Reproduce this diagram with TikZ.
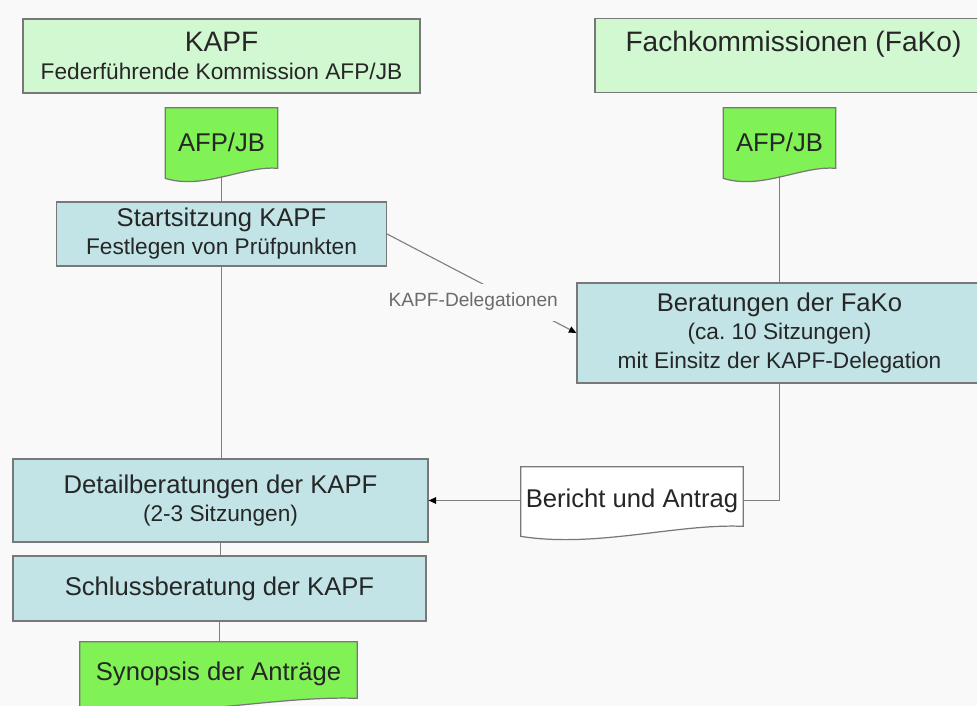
\documentclass[tikz,border=0pt]{standalone}
\usepackage{fontspec}
\setmainfont{Liberation Sans}
\usetikzlibrary{arrows.meta,calc,backgrounds}

\definecolor{bgpage}{RGB}{249,249,249}
\definecolor{hdrgreen}{RGB}{210,248,210}
\definecolor{docgreen}{RGB}{128,242,85}
\definecolor{sessblue}{RGB}{194,228,230}
\definecolor{rimgray}{RGB}{120,120,120}
\definecolor{wiregray}{RGB}{128,128,128}

\newcommand{\bigtxt}{\fontsize{16}{16}\selectfont}
\newcommand{\midtxt}{\fontsize{14.6}{16}\selectfont}
\newcommand{\smalltxt}{\fontsize{12.9}{16}\selectfont}
\newcommand{\lbltxt}{\fontsize{10.9}{13}\selectfont}

\begin{document}
\begin{tikzpicture}[x=0.02cm, y=-0.02cm,
  every node/.style={font=\midtxt, text=black!85},
  hdr/.style={draw=rimgray, fill=hdrgreen, line width=0.7pt, minimum width=7.94cm, minimum height=1.48cm, inner sep=0pt, align=center},
  sess/.style={draw=rimgray, fill=sessblue, line width=0.7pt, inner sep=0pt, align=center},
  docu/.style={inner sep=0pt, align=center},
  wire/.style={draw=wiregray, line width=0.65pt},
  arr/.style={wire, -{Triangle[length=1.5mm, width=1.3mm, color=black]}},
  deleg/.style={font=\lbltxt, text=black!58, fill=bgpage, inner xsep=0.1cm, inner ysep=0pt, minimum height=0.74cm}
]
\path[use as bounding box] (0,0) rectangle (977,706);
\begin{scope}[on background layer]
  \fill[bgpage] (0,0) rectangle (977,706);
\end{scope}

% commissions
\node[hdr] (kapf) at (221.5,56) {{\bigtxt KAPF}\\\smalltxt Federführende Kommission AFP/JB};
\node[hdr] (fako) at (793.5,55.5) {{\bigtxt Fachkommissionen (FaKo)}\\\smalltxt\phantom{F}};

% documents
\node[docu, minimum width=2.24cm, minimum height=1.36cm] (afpL) at (221.5,142) {AFP/JB};
\node[docu, minimum width=2.24cm, minimum height=1.36cm] (afpR) at (779.5,142) {AFP/JB};
\node[docu, minimum width=4.44cm, minimum height=1.34cm] (bericht) at (632,500.5) {Bericht und Antrag};
\node[docu, minimum width=5.54cm, minimum height=1.28cm] (synop) at (218.5,674) {Synopsis der Anträge};

% sessions
\node[sess, minimum width=6.6cm, minimum height=1.28cm] (start) at (221.5,234) {Startsitzung KAPF\\\smalltxt Festlegen von Prüfpunkten};
\node[sess, minimum width=8.1cm, minimum height=2cm] (berat) at (779.5,333) {Beratungen der FaKo\\\smalltxt (ca.\ 10 Sitzungen)\\\smalltxt mit Einsitz der KAPF-Delegation};
\node[sess, minimum width=8.3cm, minimum height=1.66cm] (detail) at (220.5,500.5) {Detailberatungen der KAPF\\\smalltxt (2-3 Sitzungen)};
\node[sess, minimum width=8.26cm, minimum height=1.3cm] (schluss) at (219.5,588.5) {Schlussberatung der KAPF};

% wavy document outlines behind the texts
\begin{scope}[on background layer]
\foreach \n/\c in {afpL/docgreen, afpR/docgreen, bericht/white, synop/docgreen}
  \filldraw[fill=\c, draw=rimgray, line width=0.7pt]
    ($(\n.south west)+(0,-0.04cm)$) -- (\n.north west) -- (\n.north east)
    -- ($(\n.south east)+(0,0.16cm)$)
    .. controls ($(\n.south west)!0.7!(\n.south east)+(0,0.22cm)$)
    and ($(\n.south west)!0.34!(\n.south east)+(0,-0.28cm)$)
    .. ($(\n.south west)+(0,-0.04cm)$) -- cycle;
\end{scope}

% connectors
\draw[wire] (afpL.south) -- (start.north);
\draw[wire] (afpR.south) -- (berat.north);
\draw[wire] (start.south) -- (start.south |- detail.north);
\draw[wire] (detail.south) -- (detail.south |- schluss.north);
\draw[wire] (schluss.south) -- (schluss.south |- synop.north);
\draw[arr] (start.east) -- node[deleg, pos=0.455, yshift=-0.46cm] (delegl) {KAPF-Delegationen} (berat.west);
\draw[wire] (berat.south) |- (bericht.east);
\draw[arr] (bericht.west) -- (detail.east);
\end{tikzpicture}
\end{document}
